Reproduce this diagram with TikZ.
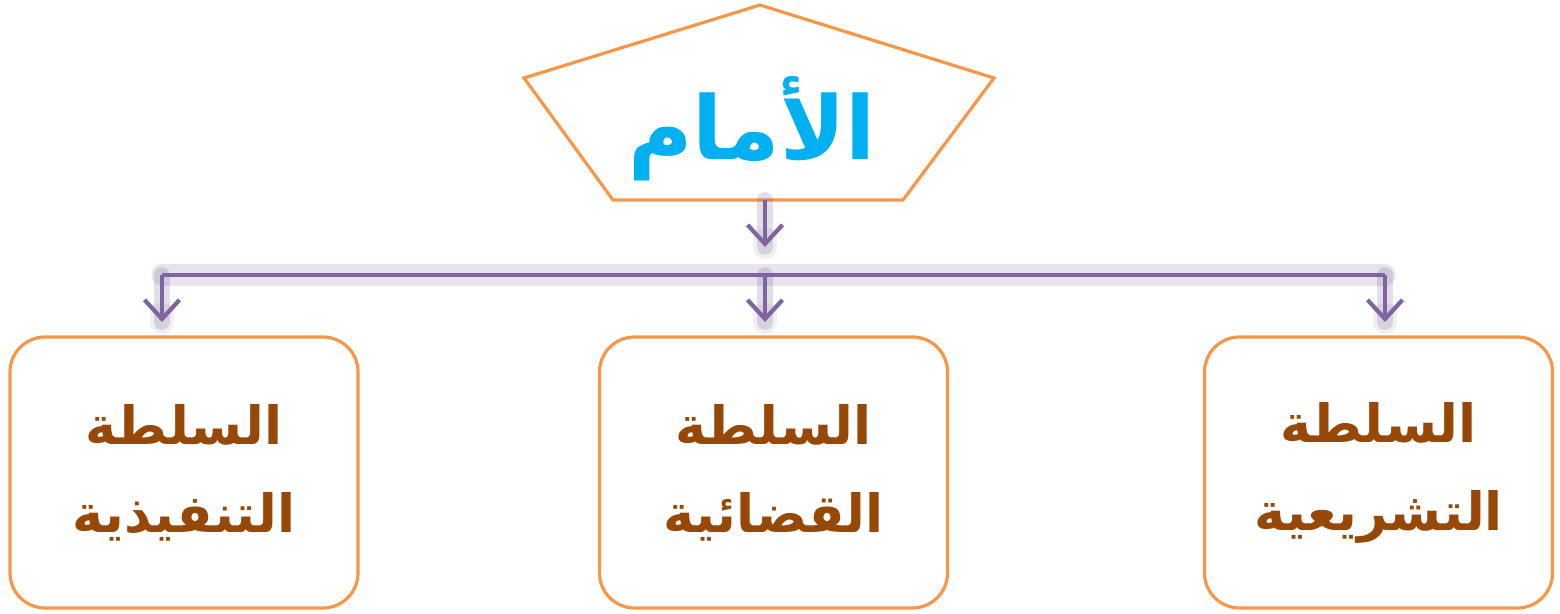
\documentclass[tikz,border=0pt]{standalone}
\usepackage{fontspec}
\newfontfamily\arabicfont[Script=Arabic]{DejaVu Sans}
\TeXXeTstate=1
\usetikzlibrary{arrows.meta,calc}
\definecolor{boxorange}{RGB}{247,150,70}
\definecolor{linkpurple}{RGB}{128,100,162}
\definecolor{glowgrey}{RGB}{110,95,130}
\definecolor{titlecyan}{RGB}{0,176,240}
\definecolor{textbrown}{RGB}{151,71,6}
\tikzset{
  branch/.style={draw=boxorange,line width=1.8pt,rounded corners=0.7cm,
    minimum width=6.96cm,minimum height=5.42cm,text=textbrown,align=center,
    font=\arabicfont\bfseries\fontsize{30}{50}\selectfont},
  link/.style={draw=linkpurple,line width=2.4pt,-{Straight Barb[length=0.38cm,width=0.7cm,line width=2.4pt]}},
  glow/.style={draw=glowgrey,line width=9pt,opacity=0.2,line cap=round,line join=round}
}
\begin{document}
\begin{tikzpicture}
\useasboundingbox (0,0) rectangle (31.2,12.28);
% head
\draw[boxorange,line width=1.8pt] (15.2,12.18) -- (19.88,10.72) -- (18.06,8.28)
  -- (12.26,8.28) -- (10.48,10.72) -- cycle;
\node[text=titlecyan,font=\arabicfont\bfseries\fontsize{50}{60}\selectfont] (imam) at (15.04,9.7) {\beginR الأمام\endR};
% branches
\node[branch] (exec) at (3.68,2.83) {\beginR السلطة\endR\\\beginR التنفيذية\endR};
\node[branch] (judi) at (15.47,2.83) {\beginR السلطة\endR\\\beginR القضائية\endR};
\node[branch] (legi) at (27.57,2.83) {\beginR السلطة\endR\\\beginR التشريعية\endR};
% links
\coordinate (top) at (15.3,8.28);
\coordinate (topend) at (15.3,7.34);
\coordinate (barl) at (3.24,6.78);
\coordinate (barm) at (15.3,6.78);
\coordinate (barr) at (27.7,6.78);
\coordinate (endl) at (3.24,5.84);
\coordinate (endm) at (15.3,5.84);
\coordinate (endr) at (27.7,5.84);
\draw[glow,draw=linkpurple,opacity=0.18,line width=12pt] (barl) -- (barr);
\foreach \a/\b in {top/topend,barl/endl,barm/endm,barr/endr}{
  \draw[glow] (\a) -- (\b);
  \draw[glow,line width=14pt,opacity=0.1] ($(\b)+(0,0.15)$) -- (\b);
}
\draw[linkpurple,line width=2.4pt] (barl) -- (barr);
\draw[link] (top) -- (topend);
\draw[link] (barl) -- (endl);
\draw[link] (barm) -- (endm);
\draw[link] (barr) -- (endr);
\end{tikzpicture}
\end{document}
